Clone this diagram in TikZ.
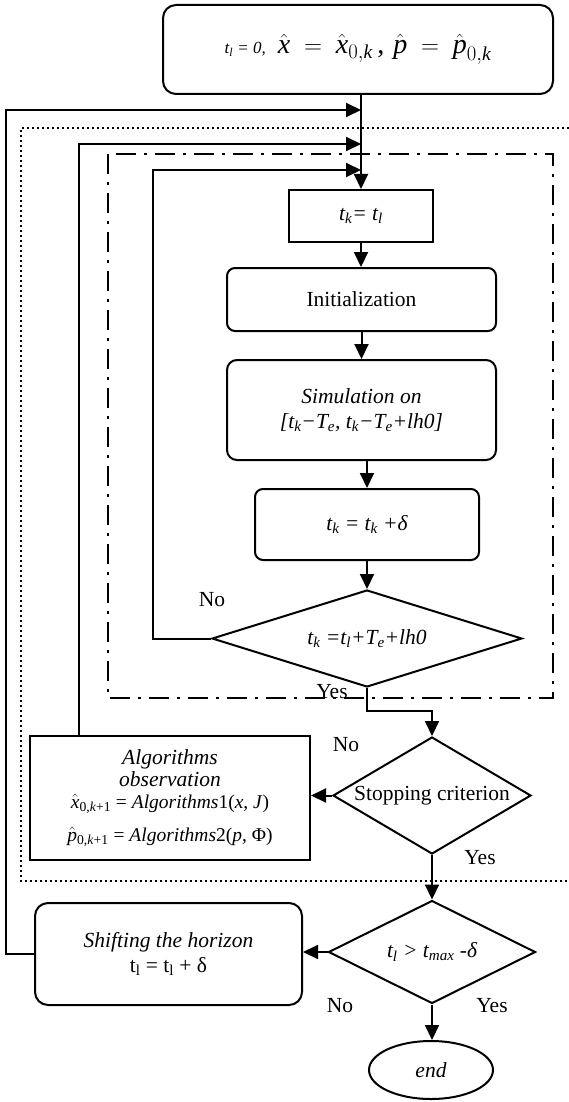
\documentclass[tikz,border=0pt]{standalone}
\usepackage{amsmath}
\usepackage{fontspec}
\setmainfont{Liberation Serif}
\usetikzlibrary{arrows.meta,shapes.geometric}
\newcommand{\hx}[1]{$\hat{\text{\itshape #1}}$}
\begin{document}
\begin{tikzpicture}[x=1pt,y=-1pt,
  every node/.style={font=\fontsize{21.5}{25}\selectfont},
  itx/.style={font=\fontsize{21.5}{25}\selectfont\itshape},
  box/.style={draw, line width=2pt, inner sep=0pt, align=center},
  rbox/.style={box, rounded corners=#1}, rbox/.default=9pt,
  dia/.style={draw, diamond, line width=2pt, inner sep=0pt, aspect=1.7},
  arr/.style={line width=2pt, -{Triangle[length=15pt,width=14pt]}},
  lbl/.style={inner sep=0pt},
  dashdot/.style={line width=2.4pt, dash pattern=on 20pt off 8pt on 3pt off 8pt},
  dots/.style={line width=2pt, dash pattern=on 2pt off 3pt}
]
\useasboundingbox (0,0) rectangle (569,1102);

% frames
\draw[dots] (569,128) -- (21,128) -- (21,881) -- (569,881);
\draw[dashdot] (108,154) rectangle (553,698);

% nodes
\node[rbox=13pt, minimum width=390pt, minimum height=89pt] (top) at (358,49.5)
  {{\fontsize{17}{20}\selectfont\itshape t\textsubscript{l} = 0,}\hspace{12pt}\fontsize{28}{32}\selectfont
   $\hat{\text{\itshape x}} \;=\; \hat{\text{\itshape x}}_{0,\text{\itshape k}}$\,,\hspace{9pt}$\hat{\text{\itshape p}} \;=\; \hat{\text{\itshape p}}_{0,\text{\itshape k}}$};
\node[box, itx, minimum width=144pt, minimum height=52pt] (tk) at (361,216)
  {t\textsubscript{k}= t\textsubscript{l}};
\node[rbox=8pt, minimum width=269pt, minimum height=63pt] (init) at (361.5,299.5) {Initialization};
\node[rbox=10pt, itx, minimum width=269pt, minimum height=100pt] (sim) at (361.5,410)
  {Simulation on\\ {[}t\textsubscript{k}−T\textsubscript{e}, t\textsubscript{k}−T\textsubscript{e}+lh0{]}};
\node[rbox=8pt, itx, minimum width=224pt, minimum height=71pt] (tkd) at (367,524.5)
  {t\textsubscript{k} = t\textsubscript{k} +δ};
\node[dia, itx, minimum width=310pt, minimum height=97pt] (d1) at (367,638.5)
  {t\textsubscript{k} =t\textsubscript{l}+T\textsubscript{e}+lh0};
\node[dia, minimum width=198pt, minimum height=117pt] (d2) at (432,795.5) {Stopping criterion};
\node[box, minimum width=280pt, minimum height=124pt] (algo) at (170,798)
  {\textit{Algorithms}\\[-3pt] \textit{observation}\\[-3pt]
   {\fontsize{19.5}{22}\selectfont\hx{x}\textsubscript{0,\textit{k}+1} = \textit{Algorithms}1(\textit{x}, \textit{J})}\\[8pt]
   {\fontsize{19.5}{22}\selectfont\hx{p}\textsubscript{0,\textit{k}+1} = \textit{Algorithms}2(\textit{p}, Φ)}};
\node[dia, itx, minimum width=207pt, minimum height=103pt] (d3) at (432,952)
  {t\textsubscript{l} > t\textsubscript{max} -δ};
\node[rbox=13pt, minimum width=267pt, minimum height=102pt] (shift) at (168.5,954)
  {\textit{Shifting the horizon}\\ t\textsubscript{l} = t\textsubscript{l} + δ};
\node[draw, ellipse, itx, line width=2pt, inner sep=0pt, minimum width=124pt, minimum height=58pt] (end) at (431,1070) {end};

% labels
\node[lbl] (no1) at (212,600) {No};
\node[lbl] (yes1) at (332,692) {Yes};
\node[lbl] (no2) at (346,745) {No};
\node[lbl] (yes2) at (480,858) {Yes};
\node[lbl] (no3) at (340,1006) {No};
\node[lbl] (yes3) at (492,1006) {Yes};

% junctions on main line
\coordinate (j1) at (361,110);
\coordinate (j2) at (361,144);
\coordinate (j3) at (361,170);

% main flow
\draw[arr] (top.south -| tk.north) -- (tk.north);
\draw[arr] (tk.south) -- (tk.south |- init.north);
\draw[arr] (init.south) -- (init.south |- sim.north);
\draw[arr] (sim.south -| tkd.north) -- (tkd.north);
\draw[arr] (tkd.south) -- (d1.north);
\draw[arr] (d1.south) -- ++(0,23) -| (d2.north);
\draw[arr] (d2.west) -- (d2.west -| algo.east);
\draw[arr] (d2.south) -- (d3.north);
\draw[arr] (d3.west) -- (d3.west -| shift.east);
\draw[arr] (d3.south) -- (d3.south |- end.north);

% loops
\draw[arr] (d1.west) -- ++(-58,0) |- (j3);
\draw[arr] (algo.north west) ++(50,0) |- (j2);
\draw[arr] (shift.west) -- ++(-28,0) |- (j1);
\end{tikzpicture}
\end{document}
